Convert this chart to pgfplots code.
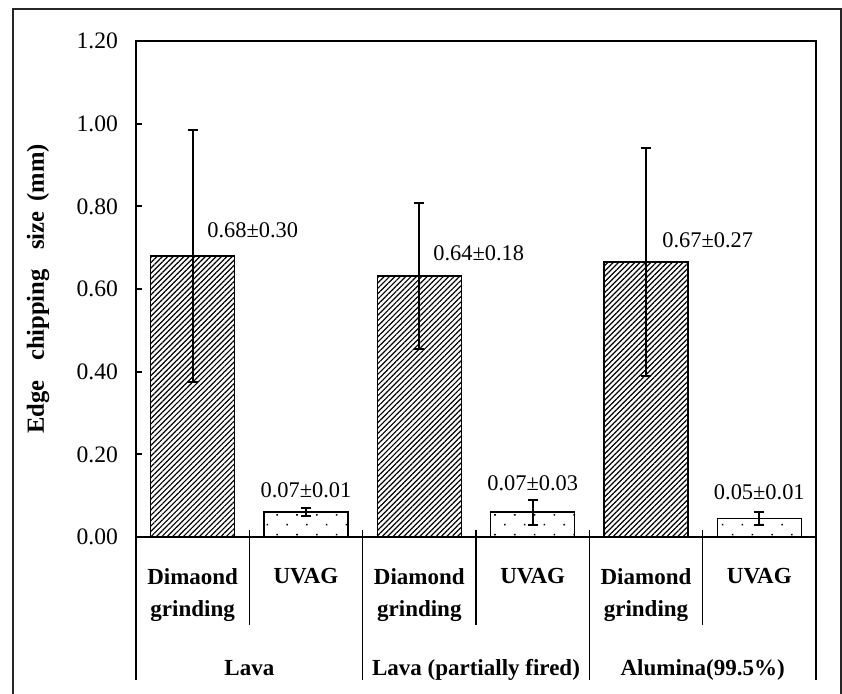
\documentclass[border=0pt]{standalone}
\usepackage{fontspec}
\setmainfont{Liberation Serif}
\usepackage{pgfplots}
\pgfplotsset{compat=1.18}
\usetikzlibrary{patterns.meta}

\pgfplotstableread{
x   y      err
0   0.680  0.305
2   0.632  0.177
4   0.665  0.275
}\diamondtab
\pgfplotstableread{
x   y      err
1   0.060  0.010
3   0.060  0.030
5   0.045  0.015
}\uvagtab

\begin{document}
\begin{tikzpicture}
\useasboundingbox (0,0) rectangle (421pt,346.5pt);
\draw[line width=1pt, black!85] (6.5pt,-2pt) -- (6.5pt,342pt) -- (420.3pt,342pt) -- (420.3pt,-2pt);
\begin{axis}[
  at={(68pt,78pt)}, anchor=south west,
  scale only axis, width=340pt, height=248pt,
  xmin=-0.5, xmax=5.5, ymin=0, ymax=1.2,
  clip=false,
  axis line style={line width=1pt, black},
  ytick={0,0.2,0.4,0.6,0.8,1.0,1.2},
  /pgf/number format/assume math mode=true,
  yticklabel style={/pgf/number format/fixed, /pgf/number format/fixed zerofill, /pgf/number format/precision=2, font=\fontsize{11.8}{14}\selectfont, xshift=-5.5pt},
  ytick pos=left, tick align=inside, major tick length=3pt,
  ytick style={line width=1pt, black},
  xtick={0,1,2,3,4,5},
  xticklabels={{Dimaond\\grinding},UVAG,{Diamond\\grinding},UVAG,{Diamond\\grinding},UVAG},
  x tick style={draw=none},
  xticklabel style={align=center, anchor=north, yshift=-12.3pt, font=\bfseries\fontsize{11.5}{16}\selectfont},
  every axis y label/.style={at={(axis description cs:-0.144,0.5)}, rotate=90, anchor=center},
  ylabel={\bfseries\fontsize{12.3}{14}\selectfont Edge\hspace{0.8em}chipping\hspace{0.8em}size\hspace{0.4em}(mm)},
]
\addplot[ybar, bar width=0.74, bar shift=0pt, draw=black, line width=0.75pt,
  pattern={Lines[angle=45,distance=1.9pt,line width=0.6pt]},
  error bars/.cd, y dir=both, y explicit,
  error bar style={line width=1pt, black},
  error mark options={rotate=90, line width=1pt, mark size=2.5pt, black}]
  table[x=x, y=y, y error=err] {\diamondtab};
\addplot[ybar, bar width=0.74, bar shift=0pt, draw=black, line width=0.75pt,
  pattern={Dots[angle=45,distance=7pt,radius=0.55pt]},
  error bars/.cd, y dir=both, y explicit,
  error bar style={line width=1pt, black},
  error mark options={rotate=90, line width=1pt, mark size=2.5pt, black}]
  table[x=x, y=y, y error=err] {\uvagtab};

\begin{scope}[every node/.style={inner sep=0pt, font=\fontsize{11.2}{13}\selectfont}]
\node[anchor=west] at (axis cs:0.126,0.743) {0.68±0.30};
\node[anchor=west] at (axis cs:2.12,0.687) {0.64±0.18};
\node[anchor=west] at (axis cs:4.141,0.719) {0.67±0.27};
\node at (axis cs:1,0.114) {0.07±0.01};
\node at (axis cs:3,0.131) {0.07±0.03};
\node at (axis cs:5,0.109) {0.05±0.01};
\end{scope}

\draw[line width=0.8pt] (axis cs:0.5,0) ++(0pt,3.5pt) -- ++(0pt,-47.5pt);
\draw[line width=0.8pt] (axis cs:2.5,0) ++(0pt,3.5pt) -- ++(0pt,-47.5pt);
\draw[line width=0.8pt] (axis cs:4.5,0) ++(0pt,3.5pt) -- ++(0pt,-47.5pt);
\draw[line width=0.8pt] (axis cs:-0.5,0) -- ++(0pt,-71.5pt);
\draw[line width=0.8pt] (axis cs:5.5,0) -- ++(0pt,-71.5pt);
\draw[line width=0.8pt] (axis cs:1.5,0) ++(0pt,3.5pt) -- ++(0pt,-75pt);
\draw[line width=0.8pt] (axis cs:3.5,0) ++(0pt,3.5pt) -- ++(0pt,-75pt);

\node[anchor=base, font=\bfseries\fontsize{11.5}{14}\selectfont, yshift=-69pt] at (axis cs:0.5,0) {Lava};
\node[anchor=base, font=\bfseries\fontsize{11.5}{14}\selectfont, yshift=-69pt] at (axis cs:2.5,0) {Lava (partially fired)};
\node[anchor=base, font=\bfseries\fontsize{11.5}{14}\selectfont, yshift=-69pt] at (axis cs:4.5,0) {Alumina(99.5\%)};
\end{axis}
\end{tikzpicture}
\end{document}
